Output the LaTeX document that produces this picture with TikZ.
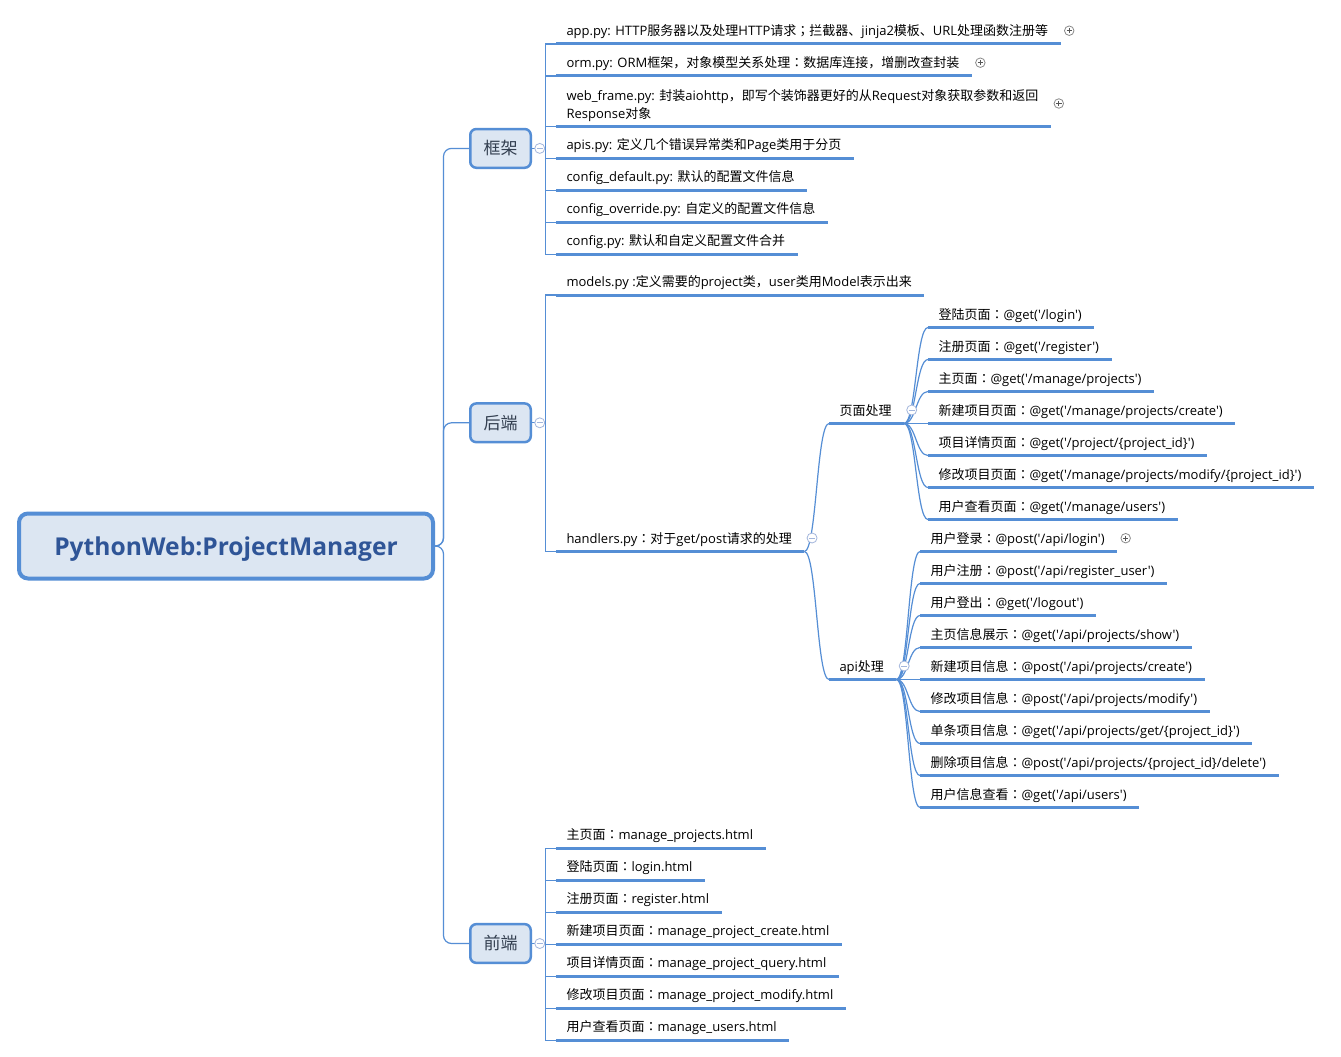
\documentclass[tikz,border=0pt]{standalone}
\usepackage{fontspec}
\setmainfont{Open Sans}[Ligatures=TeXOff]
\newfontfamily\cjkfont{Noto Sans CJK SC}
\newfontfamily\jpfont{Noto Sans CJK JP}
\newfontfamily\latinfont{Open Sans}[Ligatures=TeXOff]
\usetikzlibrary{calc,backgrounds}
% automatic switch between Latin and CJK fonts
\XeTeXinterchartokenstate=1
\newXeTeXintercharclass\cjkclass
\newXeTeXintercharclass\colclass
\count255="4E00
\loop \XeTeXcharclass\count255=\cjkclass \advance\count255 by 1 \ifnum\count255<"A000 \repeat
\count255="3000
\loop \XeTeXcharclass\count255=\cjkclass \advance\count255 by 1 \ifnum\count255<"3040 \repeat
\count255="FF00
\loop \XeTeXcharclass\count255=\cjkclass \advance\count255 by 1 \ifnum\count255<"FFF0 \repeat
\XeTeXcharclass"FF1A=\colclass
\XeTeXcharclass"FF1B=\colclass
\XeTeXinterchartoks 0 \cjkclass={\cjkfont}
\XeTeXinterchartoks \cjkclass 0={\latinfont}
\XeTeXinterchartoks 4095 \cjkclass={\cjkfont}
\XeTeXinterchartoks \cjkclass 4095={\latinfont}
\XeTeXinterchartoks 0 \colclass={\jpfont}
\XeTeXinterchartoks \colclass 0={\latinfont}
\XeTeXinterchartoks 4095 \colclass={\jpfont}
\XeTeXinterchartoks \colclass 4095={\latinfont}
\XeTeXinterchartoks \cjkclass \colclass={\jpfont}
\XeTeXinterchartoks \colclass \cjkclass={\cjkfont}

\definecolor{xblue}{HTML}{558ED5}
\definecolor{xfill}{HTML}{DCE6F2}
\definecolor{roottext}{HTML}{2F5597}
\definecolor{branchtext}{HTML}{333F50}
\definecolor{colc}{HTML}{A3B6DC}
\definecolor{expc}{HTML}{8A8A8A}
\definecolor{expd}{HTML}{555555}

\tikzset{
  conn/.style={xblue, line width=1.2},
  uline/.style={xblue, line width=3},
  leaf/.style={anchor=base west, inner sep=0, outer sep=0, font=\fontsize{13}{16}\selectfont, text=black},
  rootbox/.style={draw=xblue, line width=4, fill=xfill, rounded corners=9, minimum width=414, minimum height=65, inner sep=0, outer sep=0, text height=18.5, text depth=0, text=roottext, font=\fontsize{24.6}{30}\selectfont\bfseries},
  branchbox/.style={draw=xblue, line width=2.5, fill=xfill, rounded corners=6, minimum width=60.5, minimum height=38.7, inner sep=0, outer sep=0, text=branchtext, font=\fontsize{17}{20}\selectfont},
  colicon/.style={circle, draw=colc, fill=white, line width=0.8, minimum size=10, inner sep=0,
    path picture={\draw[colc, line width=0.9] ($(path picture bounding box.center)+(-3,0)$) -- +(6,0);}},
  expicon/.style={circle, draw=expc, fill=white, line width=0.8, minimum size=9.5, inner sep=0,
    path picture={\draw[expd, line width=0.9] ($(path picture bounding box.center)+(-2.7,0)$) -- +(5.4,0) ($(path picture bounding box.center)+(0,-2.7)$) -- +(0,5.4);}},
}
\newcommand\mmleaf[4]{%
  \coordinate (#1s) at (#2,#3);
  \node[leaf] (#1) at ($(#1s)+(10.5,-8.5)$) {#4};
  \coordinate (#1e) at ($(#1.east |- #1s)+(12.5,0)$);
  \draw[uline] (#1s) -- (#1e);
}
\newcommand\scurve[2]{\draw[conn] (#1) .. controls ($(#1)!0.5!(#1 -| #2)$) and ($(#2)!0.5!(#2 -| #1)$) .. (#2);}

\begin{document}
\begin{tikzpicture}[x=1pt,y=-1pt]
\useasboundingbox (0,0) rectangle (1341,1057);

% root and main topics
\node[rootbox] (root) at (226,546) {PythonWeb:ProjectManager};
\node[branchbox] (b1) at (500.5,148.4) {框架};
\node[branchbox] (b2) at (500.5,422.8) {后端};
\node[branchbox] (b3) at (500.5,943.5) {前端};

% 框架
\mmleaf{k1}{556}{44}{app.py: HTTP服务器以及处理HTTP请求；拦截器、jinja2模板、URL处理函数注册等}
\mmleaf{k2}{556}{76}{orm.py: ORM框架，对象模型关系处理：数据库连接，增删改查封装}
\coordinate (k3s) at (556,126.5);
\node[leaf] (k3) at (566.5,100.2) {web\_frame.py: 封装aiohttp，即写个装饰器更好的从Request对象获取参数和返回};
\node[leaf] (k3b) at (566.5,118) {Response对象};
\coordinate (k3e) at ($(k3.east |- k3s)+(12.5,0)$);
\draw[uline] (k3s) -- (k3e);
\mmleaf{k4}{556}{158.3}{apis.py: 定义几个错误异常类和Page类用于分页}
\mmleaf{k5}{556}{190.3}{config\_default.py: 默认的配置文件信息}
\mmleaf{k6}{556}{222.3}{config\_override.py: 自定义的配置文件信息}
\mmleaf{k7}{556}{254.3}{config.py: 默认和自定义配置文件合并}

% 后端
\mmleaf{h1}{556}{295}{models.py :定义需要的project类，user类用Model表示出来}
\mmleaf{h2}{556}{551.5}{handlers.py：对于get/post请求的处理}
\mmleaf{p0}{829}{423.5}{页面处理}
\mmleaf{a0}{829}{679.5}{api处理}

\mmleaf{p1}{928}{327.5}{登陆页面：@get('/login')}
\mmleaf{p2}{928}{359.5}{注册页面：@get('/register')}
\mmleaf{p3}{928}{391.5}{主页面：@get('/manage/projects')}
\mmleaf{p4}{928}{423.5}{新建项目页面：@get('/manage/projects/create')}
\mmleaf{p5}{928}{455.5}{项目详情页面：@get('/project/\{project\_id\}')}
\mmleaf{p6}{928}{487.5}{修改项目页面：@get('/manage/projects/modify/\{project\_id\}')}
\mmleaf{p7}{928}{519.5}{用户查看页面：@get('/manage/users')}

\mmleaf{a1}{920}{551.5}{用户登录：@post('/api/login')}
\mmleaf{a2}{920}{583.5}{用户注册：@post('/api/register\_user')}
\mmleaf{a3}{920}{615.5}{用户登出：@get('/logout')}
\mmleaf{a4}{920}{647.5}{主页信息展示：@get('/api/projects/show')}
\mmleaf{a5}{920}{679.5}{新建项目信息：@post('/api/projects/create')}
\mmleaf{a6}{920}{711.5}{修改项目信息：@post('/api/projects/modify')}
\mmleaf{a7}{920}{743.5}{单条项目信息：@get('/api/projects/get/\{project\_id\}')}
\mmleaf{a8}{920}{775.5}{删除项目信息：@post('/api/projects/\{project\_id\}/delete')}
\mmleaf{a9}{920}{807.5}{用户信息查看：@get('/api/users')}

% 前端
\mmleaf{f1}{556}{848.3}{主页面：manage\_projects.html}
\mmleaf{f2}{556}{880.3}{登陆页面：login.html}
\mmleaf{f3}{556}{912.3}{注册页面：register.html}
\mmleaf{f4}{556}{944.3}{新建项目页面：manage\_project\_create.html}
\mmleaf{f5}{556}{976.3}{项目详情页面：manage\_project\_query.html}
\mmleaf{f6}{556}{1008.3}{修改项目页面：manage\_project\_modify.html}
\mmleaf{f7}{556}{1040.3}{用户查看页面：manage\_users.html}

% connectors
\begin{scope}[on background layer]
\fill[white] (0,0) rectangle (1341,1057);
\foreach \nm in {b1,b2,b3}
  \draw[conn, rounded corners=8] (root.east) -- (443.5,546) |- (\nm.west);
\foreach \nm in {k1s,k2s,k3s,k4s,k5s,k6s,k7s}
  \draw[conn] (b1.east) -- ($(b1.east)+(15,0)$) |- (\nm);
\foreach \nm in {h1s,h2s}
  \draw[conn] (b2.east) -- ($(b2.east)+(15,0)$) |- (\nm);
\foreach \nm in {f1s,f2s,f3s,f4s,f5s,f6s,f7s}
  \draw[conn] (b3.east) -- ($(b3.east)+(15,0)$) |- (\nm);
\scurve{h2e}{p0s}
\scurve{h2e}{a0s}
\foreach \nm in {p1s,p2s,p3s,p4s,p5s,p6s,p7s}
  {\scurve{p0e}{\nm}}
\foreach \nm in {a1s,a2s,a3s,a4s,a5s,a6s,a7s,a8s,a9s}
  {\scurve{a0e}{\nm}}
\end{scope}

% collapse / expand icons
\node[colicon] (b1i) at ($(b1.east)+(9,0)$) {};
\node[colicon] (b2i) at ($(b2.east)+(9,0)$) {};
\node[colicon] (b3i) at ($(b3.east)+(9,0)$) {};
\node[colicon] (h2i) at ($(h2e)+(7.7,-13.5)$) {};
\node[colicon] (p0i) at ($(p0e)+(7.7,-13.5)$) {};
\node[colicon] (a0i) at ($(a0e)+(7.7,-13.5)$) {};
\node[expicon] (k1i) at ($(k1e)+(8.5,-13.3)$) {};
\node[expicon] (k2i) at ($(k2e)+(8.5,-13.3)$) {};
\node[expicon] (k3i) at ($(k3e)+(8,-23)$) {};
\node[expicon] (a1i) at ($(a1e)+(8.5,-13.3)$) {};
\end{tikzpicture}
\end{document}
